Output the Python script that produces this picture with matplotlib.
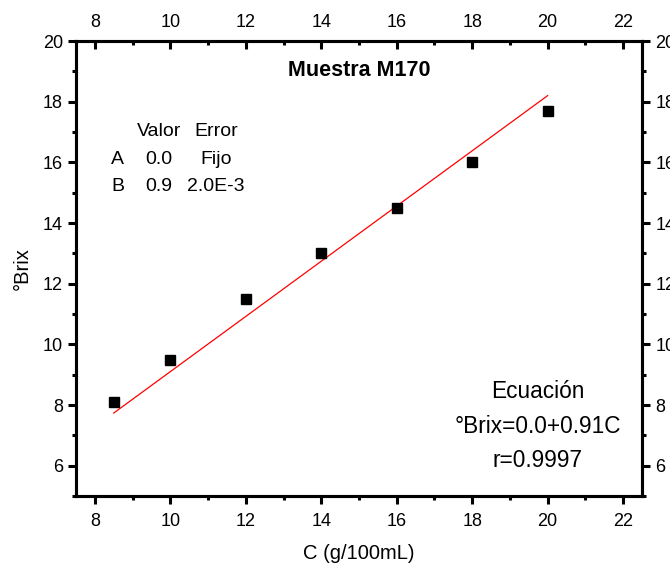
import matplotlib
matplotlib.use("Agg")
import matplotlib.pyplot as plt
import numpy as np
from matplotlib.ticker import MultipleLocator

plt.rcParams['font.family'] = ['Liberation Sans', 'DejaVu Sans']

conc = [8.5, 10, 12, 14, 16, 18, 20]
brix = [8.1, 9.5, 11.5, 13.0, 14.5, 16.0, 17.7]
slope = 0.91
intercept = 0.0

fig = plt.figure(figsize=(6.7, 5.65), dpi=100)
ax = fig.add_axes([76/670, 1 - 496/565, (642 - 76)/670, (496 - 41)/565])

xfit = np.array([conc[0], conc[-1]])
ax.plot(xfit, intercept + slope * xfit, color='red', lw=0.9, zorder=2)
ax.plot(conc, brix, 's', color='black', ms=7, zorder=3)

ax.set_xlim(7.5, 22.5)
ax.set_ylim(5, 20)
ax.xaxis.set_major_locator(MultipleLocator(2))
ax.xaxis.set_minor_locator(MultipleLocator(1))
ax.yaxis.set_major_locator(MultipleLocator(2))
ax.yaxis.set_minor_locator(MultipleLocator(1))

for s in ax.spines.values():
    s.set_linewidth(2.2)

ax.tick_params(which='both', direction='out', width=2.2, labelsize=13,
               top=False, right=True, labelright=True)
ax.tick_params(which='major', length=6)
ax.tick_params(which='minor', length=3)
ax.tick_params(axis='x', pad=6)

# top axis with inward ticks
axt = ax.twiny()
axt.set_xlim(ax.get_xlim())
axt.xaxis.set_major_locator(MultipleLocator(2))
axt.xaxis.set_minor_locator(MultipleLocator(1))
axt.tick_params(which='both', direction='in', width=2.2, labelsize=13, pad=7)
axt.tick_params(which='major', length=6)
axt.tick_params(which='minor', length=3)
for s in axt.spines.values():
    s.set_linewidth(2.2)

ax.set_xlabel('C (g/100mL)', fontsize=14.5, labelpad=10)
ax.set_ylabel('°Brix', fontsize=14.5, labelpad=8)

ax.text(0.5, 19.03, 'Muestra M170', transform=ax.get_yaxis_transform(), ha='center',
        va='center', fontsize=15.5, fontweight='bold')

rows = [['', 'Valor', 'Error'], ['A', '0.0', 'Fijo'], ['B', '0.9', '2.0E-3']]
ys = [17.03, 16.1, 15.2]
tr = ax.get_yaxis_transform()
for row, yv in zip(rows, ys):
    ax.text(0.074, yv, row[0], transform=tr, ha='center', va='center', fontsize=14)
    ax.text(0.146, yv, row[1], transform=tr, ha='center', va='center', fontsize=14)
    ax.text(0.247, yv, row[2], transform=tr, ha='center', va='center', fontsize=14)

eq_lines = ['Ecuación', '°Brix=0.0+0.91C', 'r=0.9997']
eq_y = [8.43, 7.3, 6.17]
for t, yv in zip(eq_lines, eq_y):
    ax.text(0.816, yv, t, transform=tr, ha='center', va='center', fontsize=16.3)

fig.savefig('out.png', dpi=100)
